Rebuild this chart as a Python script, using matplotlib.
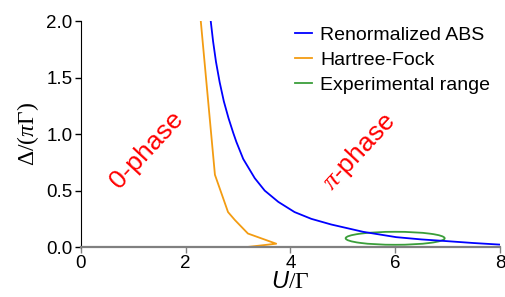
import numpy as np
import matplotlib.pyplot as plt
from matplotlib.patches import Ellipse
from matplotlib.lines import Line2D

plt.rcParams['font.family'] = ['Liberation Sans', 'DejaVu Sans']
plt.rcParams['mathtext.fontset'] = 'custom'
plt.rcParams['mathtext.rm'] = 'Liberation Serif'
plt.rcParams['mathtext.it'] = 'Liberation Serif:italic'
plt.rcParams['mathtext.sf'] = 'Liberation Sans:italic'

# renormalized ABS boundary
abs_u = [2.48, 2.525, 2.58, 2.65, 2.73, 2.82, 2.91, 2.97, 3.10, 3.32, 3.51,
         3.77, 4.08, 4.40, 4.78, 5.39, 6.02, 6.5, 6.98, 7.5, 8.0]
abs_d = [2.0, 1.82, 1.64, 1.46, 1.29, 1.14, 1.01, 0.93, 0.78, 0.61, 0.50,
         0.40, 0.31, 0.25, 0.20, 0.135, 0.088, 0.068, 0.053, 0.036, 0.022]

# Hartree-Fock boundary
hf_u = [2.29, 2.56, 2.81, 2.94, 3.19, 3.73, 3.16]
hf_d = [2.0, 0.64, 0.31, 0.24, 0.12, 0.03, 0.0]

# experimental range (ellipse)
exp_center = (6.0, 0.078)
exp_width = 1.89
exp_height = 0.115

blue = '#0000ff'
orange = '#f39c12'
green = '#3a9e3a'

fig = plt.figure(figsize=(5.05, 2.97), dpi=100)
ax = fig.add_axes([0.160, 0.168, 0.830, 0.761])

ax.plot(abs_u, abs_d, color=blue, lw=1.3)
ax.plot(hf_u, hf_d, color=orange, lw=1.3)
ax.add_patch(Ellipse(exp_center, exp_width, exp_height, fill=False,
                     edgecolor=green, lw=1.3))

handles = [Line2D([], [], color=blue, lw=1.3),
           Line2D([], [], color=orange, lw=1.3),
           Line2D([], [], color=green, lw=1.3)]
labels = ['Renormalized ABS', 'Hartree-Fock', 'Experimental range']
ax.legend(handles, labels, loc='upper right', frameon=False, fontsize=14,
          handlelength=0.9, handletextpad=0.4, labelspacing=0.38,
          borderpad=0, bbox_to_anchor=(1.0, 1.02))

ax.text(1.26, 0.86, '0-phase', color='red', fontsize=19, rotation=47,
        ha='center', va='center')
ax.text(5.31, 0.845, r'$\pi$-phase', color='red', fontsize=19, rotation=47,
        ha='center', va='center')

ax.set_xlim(0, 8)
ax.set_ylim(0, 2.0)
ax.set_xticks([0, 2, 4, 6, 8])
ax.set_yticks([0.0, 0.5, 1.0, 1.5, 2.0])
ax.set_yticklabels(['0.0', '0.5', '1.0', '1.5', '2.0'])
ax.tick_params(labelsize=13.5, length=4, width=1, direction='out', pad=2)
ax.tick_params(axis='x', colors='#808080', labelcolor='black')

for s in ['top', 'right']:
    ax.spines[s].set_visible(False)
ax.spines['bottom'].set_color('#808080')
ax.spines['bottom'].set_linewidth(1.6)
ax.spines['left'].set_linewidth(0.8)

ax.set_xlabel(r'$\mathsf{U}/\Gamma$', fontsize=17, labelpad=-1)
ax.set_ylabel(r'$\Delta/(\pi\Gamma)$', fontsize=17, labelpad=4)

fig.savefig('out.png', dpi=100)
